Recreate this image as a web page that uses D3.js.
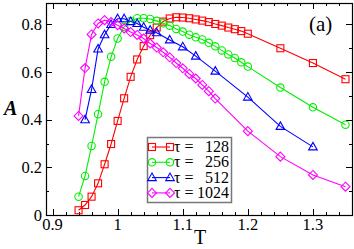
<!DOCTYPE html>
<html>
<head>
<meta charset="utf-8">
<script src="https://cdn.jsdelivr.net/npm/d3@7"></script>
<style>
  body { margin: 0; background: #fff; }
</style>
</head>
<body>
<div id="chart"></div>
<script>
// temperatures of each run
const tA = [0.94, 0.95, 0.96, 0.97, 0.98, 0.99, 1.00, 1.01, 1.02, 1.03, 1.04, 1.05, 1.06, 1.07,
  1.08, 1.09, 1.10, 1.11, 1.12, 1.13, 1.14, 1.15, 1.16, 1.17, 1.18, 1.19, 1.20, 1.25, 1.30, 1.35];
const a128 = [0.02, 0.042, 0.077, 0.133, 0.213, 0.298, 0.395, 0.49, 0.58, 0.653, 0.709, 0.755, 0.787, 0.812,
  0.825, 0.83, 0.829, 0.826, 0.821, 0.816, 0.81, 0.802, 0.795, 0.787, 0.78, 0.772, 0.761, 0.70, 0.638, 0.57];
const a256 = [0.077, 0.164, 0.29, 0.423, 0.559, 0.664, 0.741, 0.79, 0.814, 0.826, 0.826, 0.823, 0.815, 0.805,
  0.795, 0.781, 0.77, 0.757, 0.746, 0.737, 0.723, 0.708, 0.691, 0.674, 0.659, 0.641, 0.623, 0.535, 0.452, 0.379];

const tB = [0.95, 0.96, 0.97, 0.98, 0.99, 1.00, 1.01, 1.02, 1.03, 1.04, 1.05, 1.06, 1.08, 1.10, 1.12,
  1.15, 1.20, 1.25, 1.30];
const a512 = [0.40, 0.527, 0.697, 0.757, 0.80, 0.824, 0.824, 0.812, 0.804, 0.788, 0.776, 0.765, 0.735, 0.706, 0.667,
  0.604, 0.495, 0.372, 0.286];

const tC = [0.94, 0.95, 0.96, 0.97, 0.98, 0.99, 1.00, 1.01, 1.02, 1.03, 1.04, 1.05, 1.06, 1.07, 1.08,
  1.09, 1.10, 1.11, 1.12, 1.13, 1.14, 1.15, 1.20, 1.25, 1.30, 1.35];
const a1024 = [0.416, 0.617, 0.758, 0.804, 0.818, 0.81, 0.797, 0.783, 0.768, 0.756, 0.741, 0.72, 0.703, 0.683, 0.662,
  0.638, 0.616, 0.592, 0.573, 0.546, 0.52, 0.489, 0.352, 0.245, 0.168, 0.119];

const seriesNames = ['128', '256', '512', '1024'];
const xTicks = [0.9, 1.0, 1.1, 1.2, 1.3];
const xTickLabels = ['0.9', '1', '1.1', '1.2', '1.3'];
const yTicks = [0, 0.2, 0.4, 0.6, 0.8];
const yTickLabels = ['0', '0.2', '0.4', '0.6', '0.8'];

const width = 354;
const height = 249;
const plot = { left: 46, right: 352, top: 3, bottom: 215 };
const FONT = 'Liberation Serif';

const series = [
  { name: seriesNames[0], t: tA, a: a128, color: '#ff0000', symbol: 'square' },
  { name: seriesNames[1], t: tA, a: a256, color: '#00ee00', symbol: 'circle' },
  { name: seriesNames[2], t: tB, a: a512, color: '#0000ff', symbol: 'triangle' },
  { name: seriesNames[3], t: tC, a: a1024, color: '#ff00ff', symbol: 'diamond' }
];

const xScale = d3.scaleLinear().domain([0.89, 1.36]).range([plot.left, plot.right]);
const yScale = d3.scaleLinear().domain([0, 0.89]).range([plot.bottom, plot.top]);

const svg = d3.select('#chart').append('svg')
  .attr('width', width)
  .attr('height', height);

// minor ticks
const xMinor = d3.range(0.9, 1.3501, 0.02).map((d) => +d.toFixed(2));
const yMinor = d3.range(0.1, 0.85, 0.2).map((d) => +d.toFixed(1));

function drawTicks(values, len, isX) {
  values.forEach((v) => {
    if (isX) {
      const x = Math.round(xScale(v)) + 0.5;
      svg.append('line').attr('x1', x).attr('x2', x)
        .attr('y1', plot.bottom).attr('y2', plot.bottom - len).attr('stroke', '#000');
      svg.append('line').attr('x1', x).attr('x2', x)
        .attr('y1', plot.top).attr('y2', plot.top + len).attr('stroke', '#000');
    } else {
      const y = Math.round(yScale(v)) + 0.5;
      svg.append('line').attr('x1', plot.left).attr('x2', plot.left + len)
        .attr('y1', y).attr('y2', y).attr('stroke', '#000');
      svg.append('line').attr('x1', plot.right).attr('x2', plot.right - len)
        .attr('y1', y).attr('y2', y).attr('stroke', '#000');
    }
  });
}
drawTicks(xMinor.filter((d) => !xTicks.some((t) => Math.abs(t - d) < 1e-6)), 3, true);
drawTicks(xTicks, 6, true);
drawTicks(yMinor, 3, false);
drawTicks(yTicks.filter((d) => d > 0), 6, false);

// frame
svg.append('rect')
  .attr('x', plot.left + 0.5).attr('y', plot.top + 0.5)
  .attr('width', plot.right - plot.left).attr('height', plot.bottom - plot.top)
  .attr('fill', 'none').attr('stroke', '#000').attr('stroke-width', 1.2);

// tick labels
svg.selectAll('text.xl').data(xTicks).enter().append('text')
  .attr('class', 'xl')
  .attr('x', (d) => xScale(d))
  .attr('y', 230)
  .attr('text-anchor', 'middle')
  .style('font-family', FONT)
  .style('font-size', '16.5px')
  .text((d, i) => xTickLabels[i]);

svg.selectAll('text.yl').data(yTicks).enter().append('text')
  .attr('class', 'yl')
  .attr('x', 42)
  .attr('y', (d) => yScale(d) + 5.5)
  .attr('text-anchor', 'end')
  .style('font-family', FONT)
  .style('font-size', '16.5px')
  .text((d, i) => yTickLabels[i]);

// axis titles
svg.append('text').attr('x', 200).attr('y', 244).attr('text-anchor', 'middle')
  .style('font-family', FONT).style('font-size', '20px').text('T');
svg.append('text').attr('x', 4).attr('y', 115)
  .style('font-family', FONT).style('font-size', '20px')
  .style('font-weight', 'bold').style('font-style', 'italic').text('A');
svg.append('text').attr('x', 309).attr('y', 31)
  .style('font-family', FONT).style('font-size', '21px').text('(a)');

function drawSymbol(g, type, x, y, color) {
  let el;
  if (type === 'square') {
    el = g.append('rect').attr('x', x - 3.5).attr('y', y - 3.5).attr('width', 7).attr('height', 7);
  } else if (type === 'circle') {
    el = g.append('circle').attr('cx', x).attr('cy', y).attr('r', 3.7);
  } else if (type === 'triangle') {
    el = g.append('path').attr('d', `M${x},${y - 4.5}L${x + 4.3},${y + 3}L${x - 4.3},${y + 3}Z`);
  } else {
    el = g.append('path').attr('d', `M${x},${y - 4.5}L${x + 4.5},${y}L${x},${y + 4.5}L${x - 4.5},${y}Z`);
  }
  el.attr('fill', 'none').attr('stroke', color).attr('stroke-width', 1.1);
}

const line = d3.line().x((d) => xScale(d[0])).y((d) => yScale(d[1]));

series.forEach((s) => {
  const pts = s.t.map((t, i) => [t, s.a[i]]);
  const g = svg.append('g');
  g.append('path').datum(pts).attr('d', line)
    .attr('fill', 'none').attr('stroke', s.color).attr('stroke-width', 1.1);
  pts.forEach((p) => drawSymbol(g, s.symbol, xScale(p[0]), yScale(p[1]), s.color));
});

// legend
const legend = svg.append('g').attr('transform', 'translate(147,137)');
legend.append('rect').attr('x', 0.5).attr('y', 0.5).attr('width', 84).attr('height', 65)
  .attr('fill', '#fff').attr('stroke', '#777').attr('stroke-width', 1.5);
series.forEach((s, i) => {
  const y = 10 + i * 15.3;
  legend.append('line').attr('x1', 5).attr('x2', 23).attr('y1', y).attr('y2', y)
    .attr('stroke', s.color).attr('stroke-width', 1.1);
  drawSymbol(legend, s.symbol, 5, y, s.color);
  drawSymbol(legend, s.symbol, 23, y, s.color);
  legend.append('text').attr('x', 27).attr('y', y + 5)
    .style('font-family', FONT).style('font-size', '16px').text('τ =');
  legend.append('text').attr('x', 82).attr('y', y + 5)
    .style('font-family', FONT).style('font-size', '16px')
    .attr('text-anchor', 'end').text(s.name);
});
</script>
</body>
</html>
